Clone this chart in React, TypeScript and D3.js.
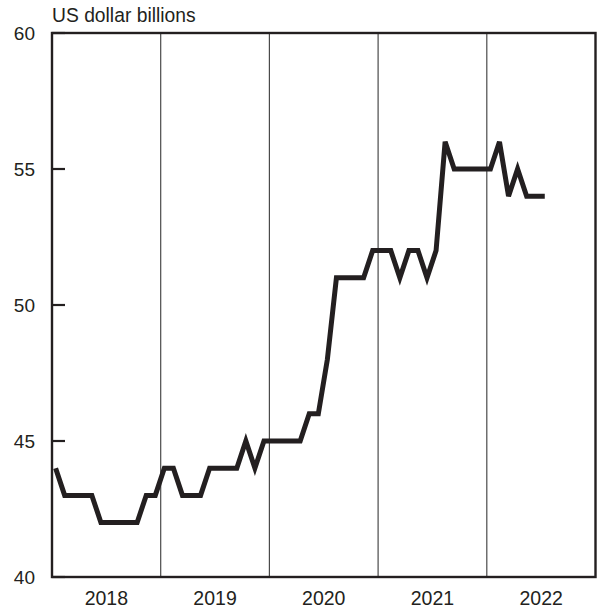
import * as d3 from "d3";

// Monthly values, Jan 2018 .. Jul 2022 (US dollar billions)
const values2018 = [44, 43, 43, 43, 43, 42, 42, 42, 42, 42, 43, 43];
const values2019 = [44, 44, 43, 43, 43, 44, 44, 44, 44, 45, 44, 45];
const values2020 = [45, 45, 45, 45, 46, 46, 48, 51, 51, 51, 51, 52];
const values2021 = [52, 52, 51, 52, 52, 51, 52, 56, 55, 55, 55, 55];
const values2022 = [55, 56, 54, 55, 54, 54, 54];

const years = ["2018", "2019", "2020", "2021", "2022"];
const yTicks = [40, 45, 50, 55, 60];
const unitLabel = "US dollar billions";

const series = [...values2018, ...values2019, ...values2020, ...values2021, ...values2022];

const W = 601;
const H = 612;
const M = { top: 33, right: 5.5, bottom: 35, left: 52 };
const INK = "#231f20";
const FONT = "'Liberation Sans', Arial, Helvetica, sans-serif";

export default function App() {
  const innerW = W - M.left - M.right;
  const x = d3
    .scaleLinear()
    .domain([0, years.length * 12])
    .range([M.left, M.left + innerW]);
  const y = d3
    .scaleLinear()
    .domain([40, 60])
    .range([H - M.bottom, M.top]);

  // points sit a little inside each month slot
  const line = d3
    .line<number>()
    .x((_d, i) => x(i + 0.4))
    .y((d) => y(d));

  const x0 = x(0);
  const x1 = x(years.length * 12);
  const yTop = y(60);
  const yBot = y(40);

  return (
    <svg
      width={W}
      height={H}
      viewBox={`0 0 ${W} ${H}`}
      style={{ position: "absolute", left: 0, top: 0, background: "#fff" }}
      fontFamily={FONT}
    >
      {/* year dividers */}
      {years.slice(1).map((yr, i) => (
        <line
          key={yr}
          x1={x((i + 1) * 12)}
          x2={x((i + 1) * 12)}
          y1={yTop}
          y2={yBot}
          stroke="#4a4a4a"
          strokeWidth={1.2}
        />
      ))}

      {/* frame */}
      <rect
        x={x0}
        y={yTop}
        width={x1 - x0}
        height={yBot - yTop}
        fill="none"
        stroke={INK}
        strokeWidth={2.4}
      />

      {/* y ticks and labels */}
      {yTicks.map((t) => (
        <g key={t}>
          <line x1={x0} x2={x0 + 13} y1={y(t)} y2={y(t)} stroke={INK} strokeWidth={2.2} />
          <text
            x={35}
            y={y(t)}
            dy="0.36em"
            textAnchor="end"
            fontSize={19}
            fill={INK}
          >
            {t}
          </text>
        </g>
      ))}

      {/* year labels */}
      {years.map((yr, i) => (
        <text
          key={yr}
          x={x(i * 12 + 6)}
          y={605}
          textAnchor="middle"
          fontSize={19.5}
          fill={INK}
        >
          {yr}
        </text>
      ))}

      <text x={x0} y={22} fontSize={19.3} fill={INK}>
        {unitLabel}
      </text>

      <path
        d={line(series) ?? ""}
        fill="none"
        stroke={INK}
        strokeWidth={5}
        strokeLinejoin="miter"
        strokeLinecap="butt"
      />
    </svg>
  );
}
